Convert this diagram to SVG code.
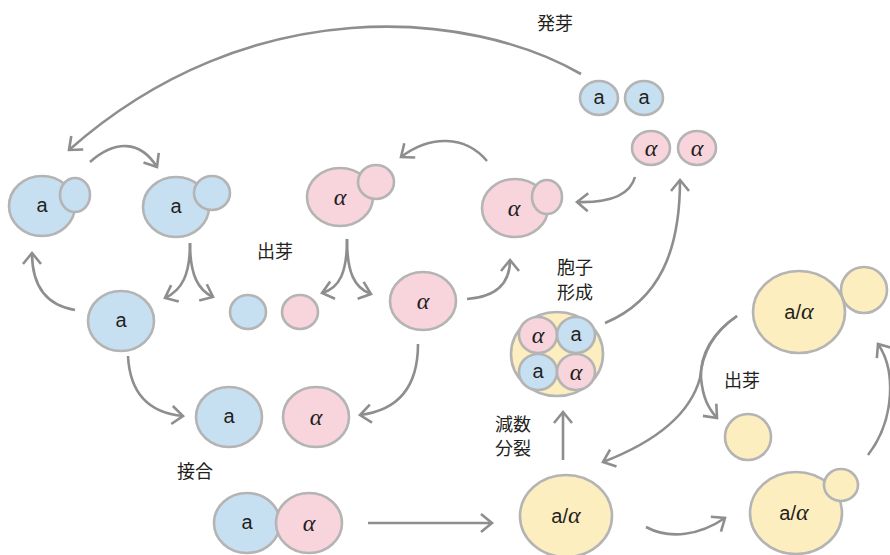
<svg xmlns="http://www.w3.org/2000/svg" width="890" height="555" viewBox="0 0 890 555">
  <style>
    .cell { stroke: #b4b4b4; stroke-width: 2.6; }
    .blue { fill: #c6dff1; }
    .pink { fill: #f8d4dc; }
    .yellow { fill: #fdeebf; }
    .lat { font-family: "Liberation Sans", Arial, sans-serif; font-size: 20px; fill: #231f20; text-anchor: middle; }
    .gr { font-family: "Liberation Serif", "DejaVu Serif", serif; font-style: italic; font-size: 24px; fill: #231f20; text-anchor: middle; }
    .lab { font-family: "Noto Sans CJK JP", "Noto Sans CJK SC", sans-serif; font-size: 18px; fill: #231f20; text-anchor: middle; }
    .arr { fill: none; stroke: #8e8e8e; stroke-width: 2.6; marker-end: url(#head); }
  </style>
  <defs>
    <marker id="head" markerUnits="userSpaceOnUse" markerWidth="20" markerHeight="24" viewBox="-16 -12 20 24" refX="0" refY="0" orient="auto" overflow="visible">
      <path d="M-11,-9 L0,0 L-11,9" fill="none" stroke="#8e8e8e" stroke-width="2.6"/>
    </marker>
  </defs>

  <rect width="890" height="555" fill="#ffffff"/>

  <!-- connectors -->
  <g id="connectors">
    <path class="arr" d="M581,74 C470,10 250,-10 69,150"/>
    <path class="arr" d="M90,162 C115,140 140,140 157,167"/>
    <path class="arr" d="M75,310 C45,305 32,285 32,253"/>
    <path class="arr" d="M190,243 C190,275 182,290 165,298"/>
    <path class="arr" d="M190,243 C190,275 198,290 213,297"/>
    <path class="arr" d="M128,356 C130,395 150,413 183,416"/>
    <path class="arr" d="M487,161 C465,135 430,135 401,157"/>
    <path class="arr" d="M347,239 C347,272 340,288 322,293"/>
    <path class="arr" d="M347,239 C347,272 354,288 371,294"/>
    <path class="arr" d="M467,299 C495,297 510,285 510,260"/>
    <path class="arr" d="M418,344 C418,385 400,410 360,415"/>
    <path class="arr" d="M635,177 C630,195 610,203 577,202"/>
    <path class="arr" d="M605,323 C660,300 680,250 680,180"/>
    <path class="arr" d="M368,523 L492,523"/>
    <path class="arr" d="M563,460 L563,412"/>
    <path class="arr" d="M737,316 C712,333 700,355 701,378 C703,398 708,408 717,418"/>
    <path class="arr" d="M737,316 C712,333 702,355 700,378 C690,415 655,442 603,462"/>
    <path class="arr" d="M646,527 C670,540 700,535 725,518"/>
    <path class="arr" d="M868,455 C895,420 896,370 878,344"/>
  </g>

  <!-- haploid a, budding (left) -->
  <g id="a-bud-left">
    <ellipse class="cell blue" cx="42" cy="206" rx="33" ry="30"/>
    <ellipse class="cell blue" cx="75" cy="195" rx="15" ry="17"/>
    <text class="lat" x="42" y="212">a</text>
  </g>

  <!-- haploid a, budding (right) -->
  <g id="a-bud-right">
    <ellipse class="cell blue" cx="176" cy="207" rx="33" ry="30"/>
    <ellipse class="cell blue" cx="212" cy="193" rx="18" ry="17"/>
    <text class="lat" x="176" y="213">a</text>
  </g>

  <!-- haploid a, single -->
  <g id="a-single">
    <ellipse class="cell blue" cx="121" cy="321" rx="33" ry="30"/>
    <text class="lat" x="121" y="327">a</text>
  </g>

  <!-- daughter cells -->
  <g id="a-daughter">
    <ellipse class="cell blue" cx="248" cy="312" rx="18" ry="17"/>
  </g>
  <g id="alpha-daughter">
    <ellipse class="cell pink" cx="300" cy="312" rx="18" ry="17"/>
  </g>

  <!-- haploid alpha, budding (left) -->
  <g id="alpha-bud-left">
    <ellipse class="cell pink" cx="340" cy="197" rx="33" ry="29"/>
    <ellipse class="cell pink" cx="376" cy="182" rx="18" ry="17"/>
    <text class="gr" x="340" y="205">α</text>
  </g>

  <!-- haploid alpha, single -->
  <g id="alpha-single">
    <ellipse class="cell pink" cx="423" cy="301" rx="33" ry="29"/>
    <text class="gr" x="423" y="309">α</text>
  </g>

  <!-- haploid alpha, budding (right) -->
  <g id="alpha-bud-right">
    <ellipse class="cell pink" cx="515" cy="208" rx="33" ry="29"/>
    <ellipse class="cell pink" cx="547" cy="197" rx="15" ry="17"/>
    <text class="gr" x="514" y="216">α</text>
  </g>

  <!-- released spores -->
  <g id="spores-a">
    <ellipse class="cell blue" cx="599" cy="98" rx="19" ry="17"/>
    <ellipse class="cell blue" cx="644" cy="98" rx="19" ry="17"/>
    <text class="lat" x="599" y="104">a</text>
    <text class="lat" x="644" y="104">a</text>
  </g>
  <g id="spores-alpha">
    <ellipse class="cell pink" cx="651" cy="148" rx="19" ry="17"/>
    <ellipse class="cell pink" cx="697" cy="148" rx="19" ry="17"/>
    <text class="gr" x="651" y="156">α</text>
    <text class="gr" x="697" y="156">α</text>
  </g>

  <!-- ascus with four spores -->
  <g id="ascus">
    <ellipse class="cell yellow" cx="557" cy="354" rx="46" ry="42"/>
    <ellipse class="cell pink" cx="538" cy="335" rx="19" ry="18"/>
    <ellipse class="cell blue" cx="576" cy="335" rx="19" ry="18"/>
    <ellipse class="cell blue" cx="538" cy="372" rx="19" ry="18"/>
    <ellipse class="cell pink" cx="576" cy="372" rx="19" ry="18"/>
    <text class="gr" x="538" y="343">α</text>
    <text class="lat" x="576" y="341">a</text>
    <text class="lat" x="538" y="378">a</text>
    <text class="gr" x="576" y="380">α</text>
  </g>

  <!-- mating pair, separate -->
  <g id="pair-separate">
    <ellipse class="cell blue" cx="229" cy="417" rx="33" ry="30"/>
    <ellipse class="cell pink" cx="316" cy="417" rx="33" ry="30"/>
    <text class="lat" x="229" y="423">a</text>
    <text class="gr" x="316" y="425">α</text>
  </g>

  <!-- mating pair, fused -->
  <g id="pair-fused">
    <ellipse class="cell blue" cx="247" cy="523" rx="33" ry="30"/>
    <ellipse class="cell pink" cx="309" cy="523" rx="33" ry="30"/>
    <text class="lat" x="247" y="529">a</text>
    <text class="gr" x="309" y="531">α</text>
  </g>

  <!-- diploid a/alpha -->
  <g id="diploid">
    <ellipse class="cell yellow" cx="566" cy="516" rx="46" ry="41"/>
    <text class="lat" x="566" y="523">a/<tspan class="gr" style="font-size:24px">α</tspan></text>
  </g>

  <!-- diploid, budding (top) -->
  <g id="diploid-bud-top">
    <ellipse class="cell yellow" cx="864" cy="290" rx="23" ry="23"/>
    <ellipse class="cell yellow" cx="799" cy="312" rx="46" ry="41"/>
    <text class="lat" x="799" y="319">a/<tspan class="gr" style="font-size:24px">α</tspan></text>
  </g>

  <!-- diploid daughter -->
  <g id="diploid-daughter">
    <ellipse class="cell yellow" cx="748" cy="437" rx="23" ry="23"/>
  </g>

  <!-- diploid, budding (bottom) -->
  <g id="diploid-bud-bottom">
    <ellipse class="cell yellow" cx="796" cy="513" rx="46" ry="41"/>
    <ellipse class="cell yellow" cx="841" cy="485" rx="17" ry="16"/>
    <text class="lat" x="794" y="520">a/<tspan class="gr" style="font-size:24px">α</tspan></text>
  </g>

  <!-- process labels -->
  <g id="labels">
    <text class="lab" x="555" y="30">発芽</text>
    <text class="lab" x="275" y="258">出芽</text>
    <text class="lab" x="575" y="274">胞子</text>
    <text class="lab" x="575" y="299">形成</text>
    <text class="lab" x="513" y="431">減数</text>
    <text class="lab" x="513" y="455">分裂</text>
    <text class="lab" x="195" y="478">接合</text>
    <text class="lab" x="742" y="387">出芽</text>
  </g>
</svg>
